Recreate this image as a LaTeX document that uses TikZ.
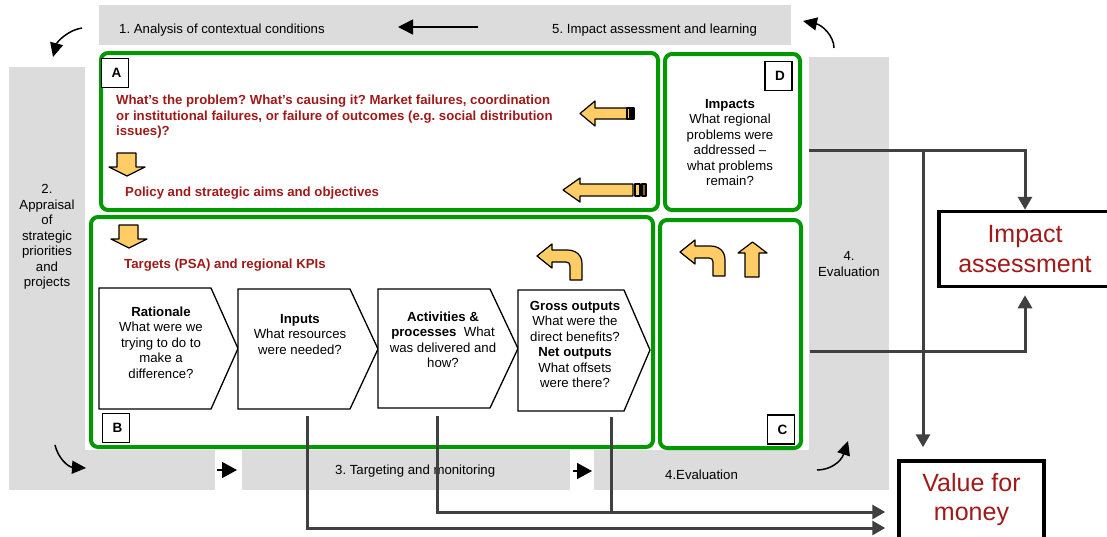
\documentclass[tikz,border=0pt]{standalone}
\usepackage{fontspec}
\setmainfont{Liberation Sans}
\frenchspacing
\usetikzlibrary{arrows.meta,calc}
\definecolor{bandgray}{RGB}{220,220,220}
\definecolor{boxgreen}{RGB}{0,153,0}
\definecolor{darkred}{RGB}{160,26,26}
\definecolor{lightorange}{RGB}{255,204,102}
\definecolor{stripebrown}{RGB}{140,100,40}
\definecolor{conngray}{RGB}{64,64,64}

\begin{document}
\begin{tikzpicture}[x=1pt,y=-1pt,
  band/.style={fill=bandgray,draw=none},
  gbox/.style={draw=boxgreen,line width=4pt,rounded corners=7pt,fill=white,inner sep=0pt},
  tag/.style={draw=black,line width=1.4pt,fill=white,minimum width=27pt,minimum height=29pt,inner sep=0pt,font=\fontsize{13.5}{15}\selectfont\bfseries},
  chev/.style={draw=black,line width=1.3pt,fill=white,line join=miter},
  txt/.style={inner sep=0pt,align=center,font=\fontsize{13.2}{15.5}\selectfont},
  redtxt/.style={inner sep=0pt,align=left,text=darkred,font=\fontsize{13.2}{15.5}\selectfont\bfseries},
  oarrow/.style={fill=lightorange,draw=black,line width=1.2pt,line join=round},
  conn/.style={draw=conngray,line width=3pt,-{Triangle[length=13pt,width=14pt]}},
  link/.style={draw=conngray,line width=3pt},
  cyc/.style={draw=black,line width=1.5pt,-{Triangle[length=14pt,width=13pt]}},
  outbox/.style={draw=black,line width=3.5pt,fill=white,align=center,text=darkred,inner sep=0pt,font=\fontsize{25}{29.5}\selectfont},
  downarr/.pic={\path[oarrow] (8,0) -- (27,0) -- (27,14) -- (36,14) -- (18,23) -- (0,14) -- (8,14) -- cycle;},
  bentarr/.pic={\path[oarrow] (33,36) -- (45,36) -- (45,20) .. controls (45,11) and (39,6) .. (30,6) -- (15,6) -- (15,0) -- (0,12) -- (15,24) -- (15,18) -- (29,18) .. controls (31.5,18) and (33,19.5) .. (33,22) -- cycle;}
]
\useasboundingbox (0,0) rectangle (1107,536);
\fill[white] (0,0) rectangle (1107,536);

% grey bands of the cycle
\fill[band] (99,5) rectangle (791,45);
\fill[band] (9,67) rectangle (85,490);
\fill[band] (9,450) rectangle (215,490);
\fill[band] (242,450) rectangle (570,490);
\fill[band] (809,57) rectangle (889,490);
\fill[band] (594,450) rectangle (889,490);

\node[txt,anchor=west] (t1) at (119,30) {1. Analysis of contextual conditions};
\node[txt,anchor=west] (t5) at (552,30) {5. Impact assessment and learning};
\node[txt] (t2) at (47,237) {2.\\Appraisal\\of\\strategic\\priorities\\and\\projects};
\node[txt] (t4) at (849,264) {4.\\Evaluation};
\node[txt,anchor=west] (t3) at (335,471) {3. Targeting and monitoring};
\node[txt,anchor=west] (t4b) at (665,475) {4.Evaluation};

% cycle arrows
\coordinate (c1s) at (82,28);  \coordinate (c1e) at (53,57);
\coordinate (c2s) at (834,48); \coordinate (c2e) at (803,21);
\coordinate (c3s) at (55,445); \coordinate (c3e) at (86,468);
\coordinate (c4s) at (817,470); \coordinate (c4e) at (848,441);
\draw[cyc] (c1s) .. controls (68,30) and (57,42) .. (c1e);
\draw[cyc] (c2s) .. controls (834,36) and (822,25) .. (c2e);
\draw[cyc] (c3s) .. controls (58,458) and (68,467) .. (c3e);
\draw[cyc] (c4s) .. controls (830,470) and (841,462) .. (c4e);
\coordinate (topS) at (478,27); \coordinate (topE) at (398,27);
\draw[cyc,-{Triangle[length=15pt,width=15pt]}] (topS) -- (topE);
\coordinate (b1s) at (217,470); \coordinate (b1e) at (237,470);
\coordinate (b2s) at (573,471); \coordinate (b2e) at (592,471);
\draw[cyc,-{Triangle[length=15pt,width=16pt]}] (b1s) -- (b1e);
\draw[cyc,-{Triangle[length=15pt,width=16pt]}] (b2s) -- (b2e);

% green panels
\node[gbox,minimum width=557pt,minimum height=157pt] (A) at (379.5,131.5) {};
\node[gbox,minimum width=135pt,minimum height=156pt] (D) at (732.5,132) {};
\node[gbox,minimum width=562pt,minimum height=230pt] (B) at (372,332) {};
\node[gbox,minimum width=141pt,minimum height=228pt] (C) at (730.5,334) {};

\node[tag] (tagA) at (115,73) {\hspace*{3pt}A};
\node[tag] (tagD) at (778.5,76) {\hspace*{3pt}D};
\node[tag] (tagB) at (116,428) {\hspace*{3pt}B};
\node[tag] (tagC) at (781,429.5) {\hspace*{3pt}C};

% panel A
\node[redtxt,anchor=north west] (aq) at (116,95) {What’s the problem? What’s causing it? Market failures, coordination\\or institutional failures, or failure of outcomes (e.g. social distribution\\issues)?};
\pic at (109,153) {downarr};
\node[redtxt,anchor=west] (aims) at (125,193) {Policy and strategic aims and objectives};
\path[oarrow] (627,108) -- (595,108) -- (595,101) -- (580,113.5) -- (595,126) -- (595,119) -- (627,119) -- cycle;
\path[oarrow] (627,108) rectangle (630,119);
\path[oarrow,fill=black] (630,108) rectangle (634,119);
\path[oarrow] (633,184) -- (580,184) -- (580,178) -- (563,190) -- (580,202) -- (580,196) -- (633,196) -- cycle;
\path[oarrow] (635,184) rectangle (640,196);
\path[oarrow,fill=stripebrown] (642,184) rectangle (646,196);

% panel D
\node[txt] (dtxt) at (730,142.5) {\textbf{Impacts}\\What regional\\problems were\\addressed –\\what problems\\remain?};

% panel B
\pic at (111,225) {downarr};
\node[redtxt,anchor=west] (kpi) at (124,265) {Targets (PSA) and regional KPIs};
\pic at (537,244) {bentarr};

\path[chev] (99,288) -- (211,288) -- (238,348.5) -- (211,409) -- (99,409) -- cycle;
\path[chev] (238,289) -- (350,289) -- (378,349) -- (350,409) -- (238,409) -- cycle;
\path[chev] (378,289) -- (490,289) -- (518,348.5) -- (490,408) -- (378,408) -- cycle;
\path[chev] (518,290) -- (624,290) -- (650,350) -- (624,411) -- (518,411) -- cycle;

\node[txt] (rat) at (161,342.5) {\textbf{Rationale}\\What were we\\trying to do to\\make a\\difference?};
\node[txt] (inp) at (300,334.5) {\textbf{Inputs}\\What resources\\were needed?};
\node[txt] (act) at (443,340) {\textbf{Activities \&}\\\textbf{processes}\ \ What\\was delivered and\\how?};
\node[txt] (gro) at (575,344.5) {\textbf{Gross outputs}\\What were the\\direct benefits?\\\textbf{Net outputs}\\What offsets\\were there?};

% panel C
\pic at (680,240) {bentarr};
\path[oarrow] (745,277) -- (745,253) -- (738,253) -- (752.5,242) -- (767,253) -- (759,253) -- (759,277) -- cycle;

% result boxes
\node[outbox,minimum width=172pt,minimum height=75pt] (IA) at (1025,249) {Impact\\assessment};
\node[outbox,minimum width=145pt,minimum height=85pt,text depth=13pt] (VfM) at (971.5,503.5) {Value for\\money};

% flows into the result boxes
\coordinate (dOut) at (809,150);
\coordinate (split) at (923,150);
\coordinate (cOut) at (810,351);
\draw[conn] (dOut) -| (IA.north);
\draw[conn,shorten >=12pt] (split) -- (split |- VfM.north);
\draw[conn,shorten >=7pt] (cOut) -| (IA.south);

\coordinate (inOut) at (307,416);
\coordinate (actOut) at (437,416);
\coordinate (grossOut) at (611,417);
\draw[conn,shorten >=12pt] (inOut) |- (VfM.west |- 0,528);
\draw[conn,shorten >=12pt] (actOut) |- (VfM.west |- 0,512);
\draw[link] (grossOut) -- (grossOut |- 0,512);
\end{tikzpicture}
\end{document}
